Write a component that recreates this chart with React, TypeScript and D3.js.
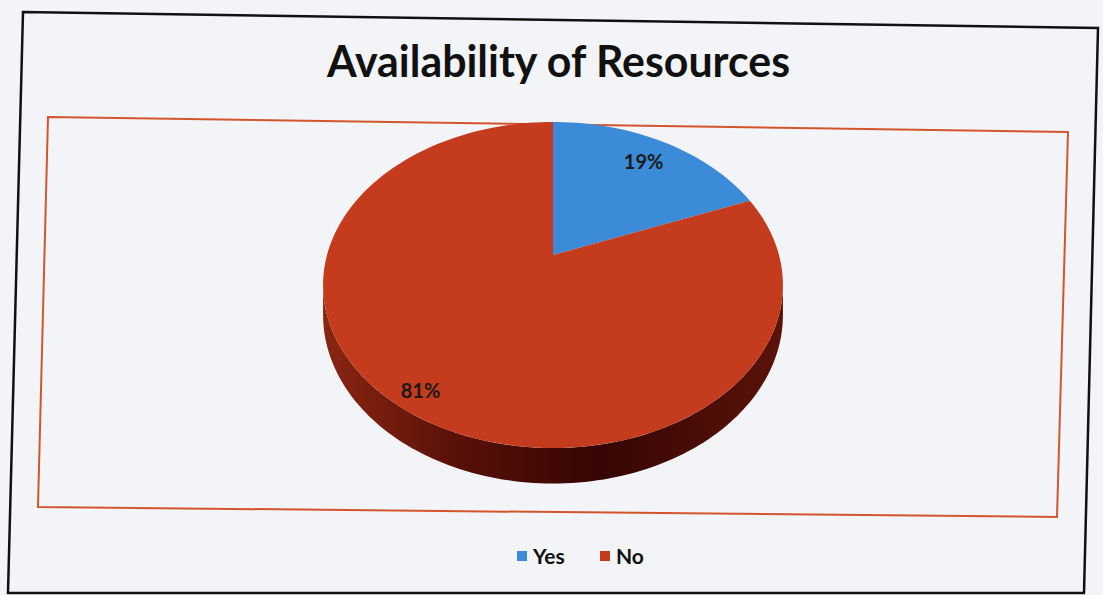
import React from "react";
import * as d3 from "d3";

const title = "Availability of Resources";
const categories = ["Yes", "No"];
const values = [19, 81];
const valueLabels = ["19%", "81%"];

const sliceColors = ["#3b8bd8", "#c43b1d"];

const W = 1103;
const H = 595;

// perspective pie projection parameters
const cx = 553;
const cy = 255;
const kx = 226;
const ky = 157.5;
const persp = 0.184;
const depth = 29;

function proj(a: number, f = 1): [number, number] {
  const x = f * Math.sin(a);
  const z = f * Math.cos(a);
  const w = 1 + persp * z;
  return [cx + (kx * x) / w, cy - (ky * z) / w];
}
function projBottom(a: number): [number, number] {
  const [X, Y] = proj(a);
  const w = 1 + persp * Math.cos(a);
  return [X, Y + depth / w];
}

export default function App() {
  const pie = d3.pie<number>().sort(null).value((d) => d);
  const arcs = pie(values);

  const topPaths = arcs.map((a) => {
    const n = Math.max(8, Math.ceil(((a.endAngle - a.startAngle) / (2 * Math.PI)) * 200));
    const pts: [number, number][] = [proj(0, 0)];
    for (let i = 0; i <= n; i++) {
      const t = a.startAngle + ((a.endAngle - a.startAngle) * i) / n;
      pts.push(proj(t));
    }
    return "M" + pts.map((p) => p[0].toFixed(2) + "," + p[1].toFixed(2)).join("L") + "Z";
  });

  const lo = Math.acos(-persp);
  const hi = 2 * Math.PI - lo;
  const sidePaths = arcs.map((a) => {
    const s = Math.max(a.startAngle, lo);
    const e = Math.min(a.endAngle, hi);
    if (e <= s) return null;
    const n = 120;
    const top: [number, number][] = [];
    const bot: [number, number][] = [];
    for (let i = 0; i <= n; i++) {
      const t = s + ((e - s) * i) / n;
      top.push(proj(t));
      bot.push(projBottom(t));
    }
    const pts = top.concat(bot.reverse());
    return "M" + pts.map((p) => p[0].toFixed(2) + "," + p[1].toFixed(2)).join("L") + "Z";
  });

  const labelFrac = [0.8, 0.9];
  const labelPos = arcs.map((a, i) => proj((a.startAngle + a.endAngle) / 2, labelFrac[i]));

  const legendX = [517, 600];

  return (
    <svg
      width={W}
      height={H}
      style={{ position: "absolute", left: 0, top: 0, background: "#f3f4f8" }}
    >
      <defs>
        <linearGradient id="sideGrad" x1="0" x2="1" y1="0" y2="0">
          <stop offset="0" stopColor="#8a2612" />
          <stop offset="0.3" stopColor="#571008" />
          <stop offset="0.6" stopColor="#360604" />
          <stop offset="1" stopColor="#5a1309" />
        </linearGradient>
      </defs>
      <rect x={0} y={0} width={W} height={H} fill="#f3f4f8" />
      {/* outer border */}
      <polygon
        points="23,12 1098,28 1084,593 8,593"
        fill="none"
        stroke="#111"
        strokeWidth={2.5}
      />
      {/* plot area border */}
      <polygon
        points="48,117 1068,132 1057,517 38,507"
        fill="none"
        stroke="#d4552c"
        strokeWidth={2}
      />
      <text
        x={558.5}
        y={77}
        textAnchor="middle"
        fontFamily="Lato, 'Open Sans', sans-serif"
        fontWeight={700}
        fontSize={43}
        textLength={463}
        lengthAdjust="spacingAndGlyphs"
        fill="#111"
      >
        {title}
      </text>
      {sidePaths.map((d, i) =>
        d ? <path key={"s" + i} d={d} fill="url(#sideGrad)" /> : null
      )}
      {topPaths.map((d, i) => (
        <path key={"t" + i} d={d} fill={sliceColors[i]} />
      ))}
      {labelPos.map((p, i) => (
        <text
          key={"l" + i}
          x={p[0]}
          y={p[1] + 7}
          textAnchor="middle"
          fontFamily="Lato, 'Open Sans', sans-serif"
          fontWeight={700}
          fontSize={20}
          fill="#1a1a1a"
        >
          {valueLabels[i]}
        </text>
      ))}
      {categories.map((c, i) => (
        <g key={"g" + i}>
          <rect x={legendX[i]} y={551} width={10} height={10} fill={sliceColors[i]} />
          <text
            x={legendX[i] + 16}
            y={564}
            fontFamily="Lato, 'Open Sans', sans-serif"
            fontWeight={700}
            fontSize={21}
            fill="#111"
          >
            {c}
          </text>
        </g>
      ))}
    </svg>
  );
}
